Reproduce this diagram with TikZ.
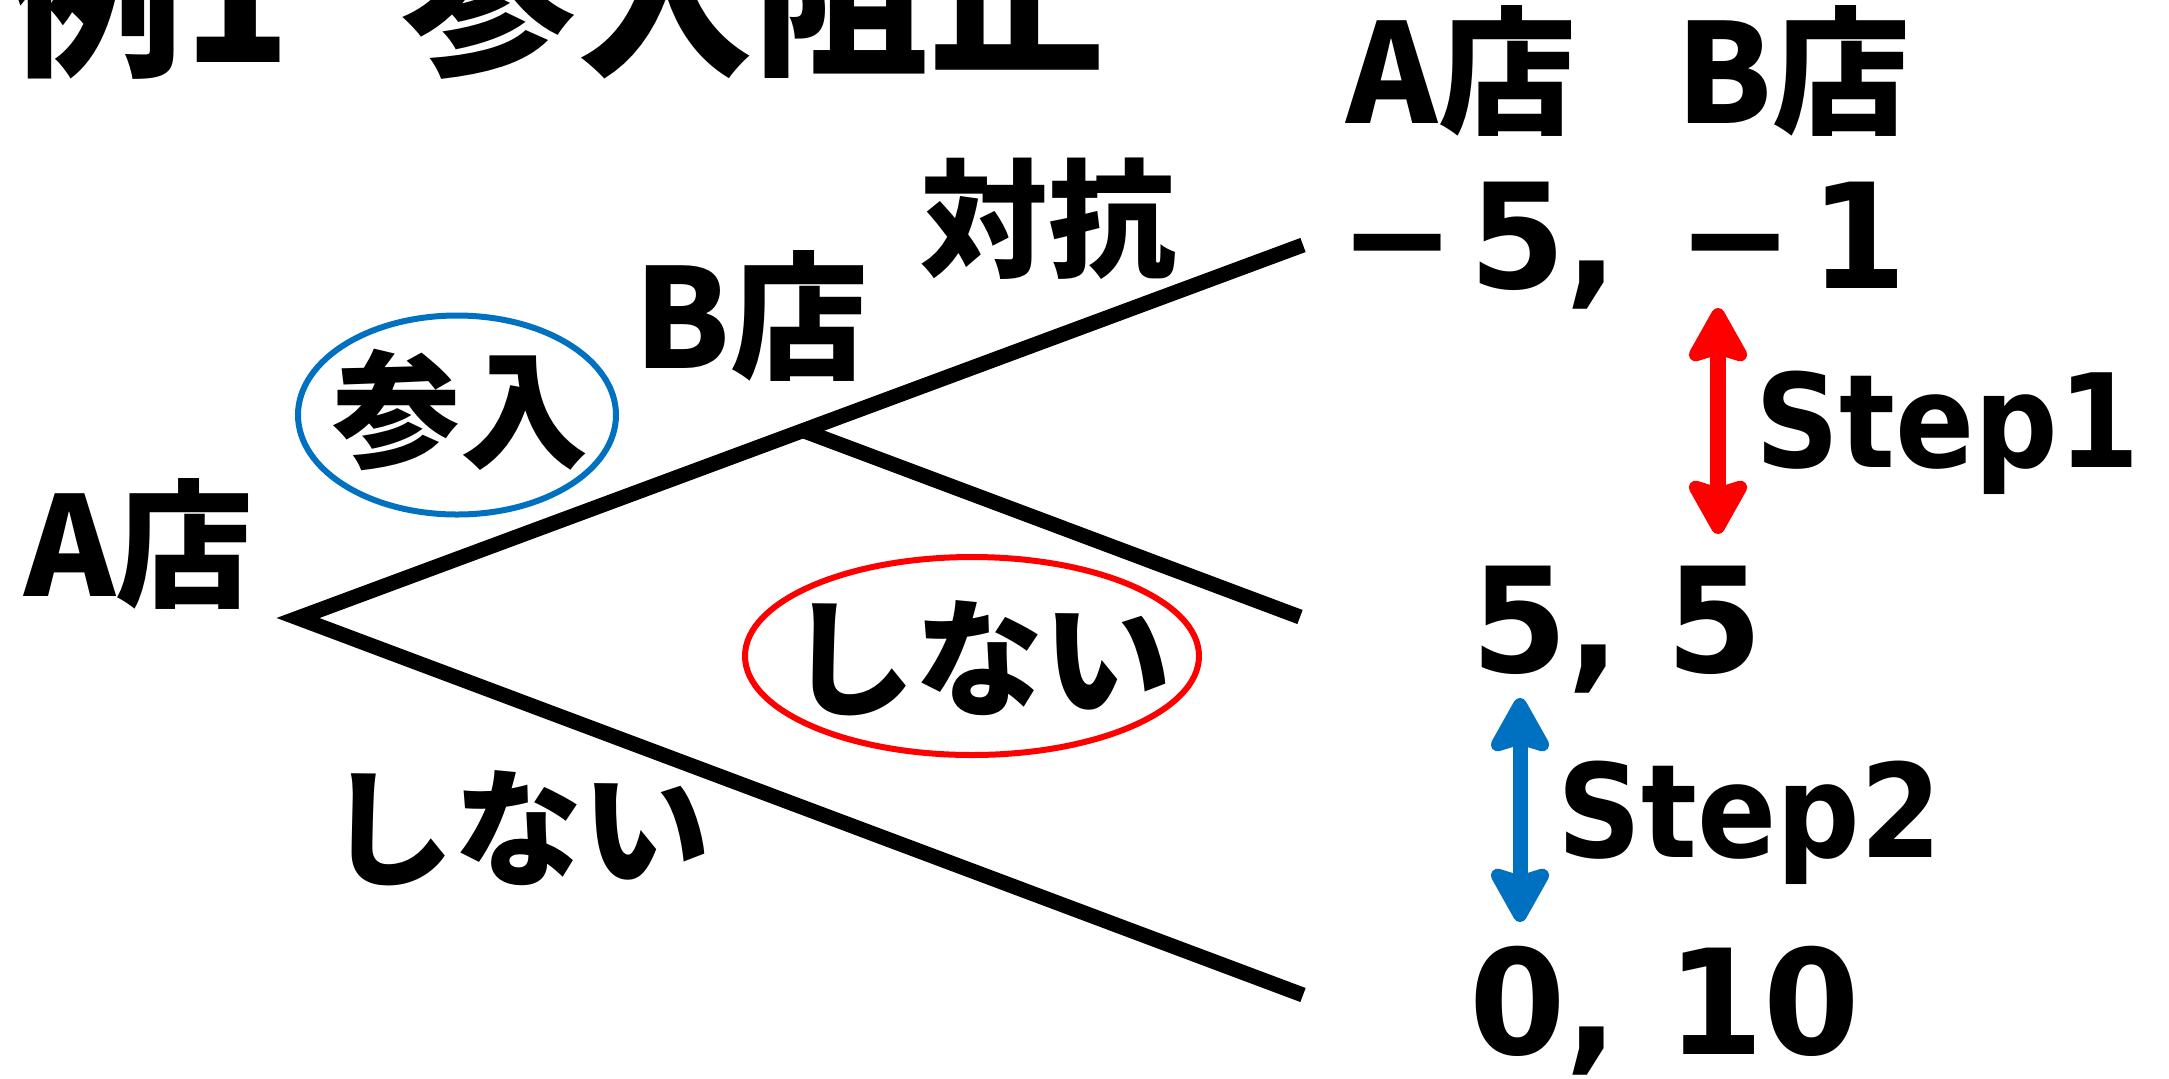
\documentclass[tikz,border=0pt]{standalone}
\usepackage{fontspec}
\usetikzlibrary{arrows.meta,calc}
\newfontfamily\jpfont{Noto Sans CJK JP}
\newfontfamily\numfont{DejaVu Sans}[FakeStretch=0.95]
\newfontfamily\stepfont{DejaVu Sans}[FakeStretch=0.9]
\definecolor{pptblue}{RGB}{0,112,192}
\definecolor{pptred}{RGB}{255,0,0}
\begin{document}
\begin{tikzpicture}[x=0.5pt,y=-0.5pt,
  every node/.style={inner sep=0pt, outer sep=0pt},
  jlabel/.style={font=\jpfont\bfseries\fontsize{69}{72}\selectfont},
  jbranch/.style={font=\jpfont\bfseries\fontsize{64}{66}\selectfont},
  jtitle/.style={font=\jpfont\bfseries\fontsize{88}{90}\selectfont},
  payoff/.style={font=\numfont\bfseries\fontsize{73}{75}\selectfont, anchor=base west},
  steplabel/.style={font=\stepfont\bfseries\fontsize{65}{67}\selectfont, anchor=base west},
  tree/.style={line width=7.5pt, black},
  choice/.style={line width=3pt},
  steptip/.style={Stealth[length=32pt,width=35pt,inset=5pt,round]},
  steparrow/.style={line width=8pt, {Stealth[length=32pt,width=35pt,inset=5pt,round]}-{Stealth[length=32pt,width=35pt,inset=5pt,round]}}
]
\fill[white] (0,0) rectangle (2169,1078);
\useasboundingbox (0,0) rectangle (2169,1078);

% title (cut off at the top)
\node[jtitle, anchor=base east] (t1) at (291,62) {例1};
\node[jtitle, anchor=base west] (t2) at (401,62) {参入阻止};

% game tree
\coordinate (R) at (298,618);
\coordinate (U) at (1303,245);
\coordinate (L) at (1303,995);
\coordinate (M) at (1300,617);
\coordinate (B) at ($(R)!0.5025!(U)$);
\draw[tree] (U) -- (R) -- (L);
\draw[tree] (B) -- (M);

% labels
\node[jlabel] (playerA) at (139,543.5) {A店};
\node[jlabel] (playerB) at (751.5,316) {B店};
\node[jbranch] (enter) at (460,410) {参入};
\draw[choice, pptblue] (457,415) ellipse [x radius=79.5pt, y radius=49.75pt];
\node[jbranch] (fight) at (1048.5,219) {対抗};
\node[jbranch] (accom) at (979.5,658.5) {しない};
\draw[choice, pptred] (972,656) ellipse [x radius=113.5pt, y radius=49.5pt];
\node[jbranch] (stay) at (518.5,828) {しない};

% payoff header
\node[jlabel] (hA) at (1461.5,71) {A店};
\node[jlabel] (hB) at (1793.5,71) {B店};

% payoffs
\node[payoff] (p1) at (1339,288) {−\kern7pt5,\kern29.5pt−\kern8.5pt1};
\node[payoff] (p2) at (1471,672) {5,\kern23pt5};
\node[payoff] (p3) at (1469,1054) {0,\kern24.5pt10};

% steps
\node[steplabel] (s1) at (1755,467) {Step1};
\node[steplabel] (s2) at (1557,857) {Step2};
\coordinate (r1) at (1718,308);
\coordinate (r2) at (1718,534);
\draw[steparrow, pptred] (r1) -- (r2);
\coordinate (b1) at (1520,698);
\coordinate (b2) at (1520,922);
\draw[steparrow, pptblue, line width=7.5pt] (b1) -- (b2);
\end{tikzpicture}
\end{document}
